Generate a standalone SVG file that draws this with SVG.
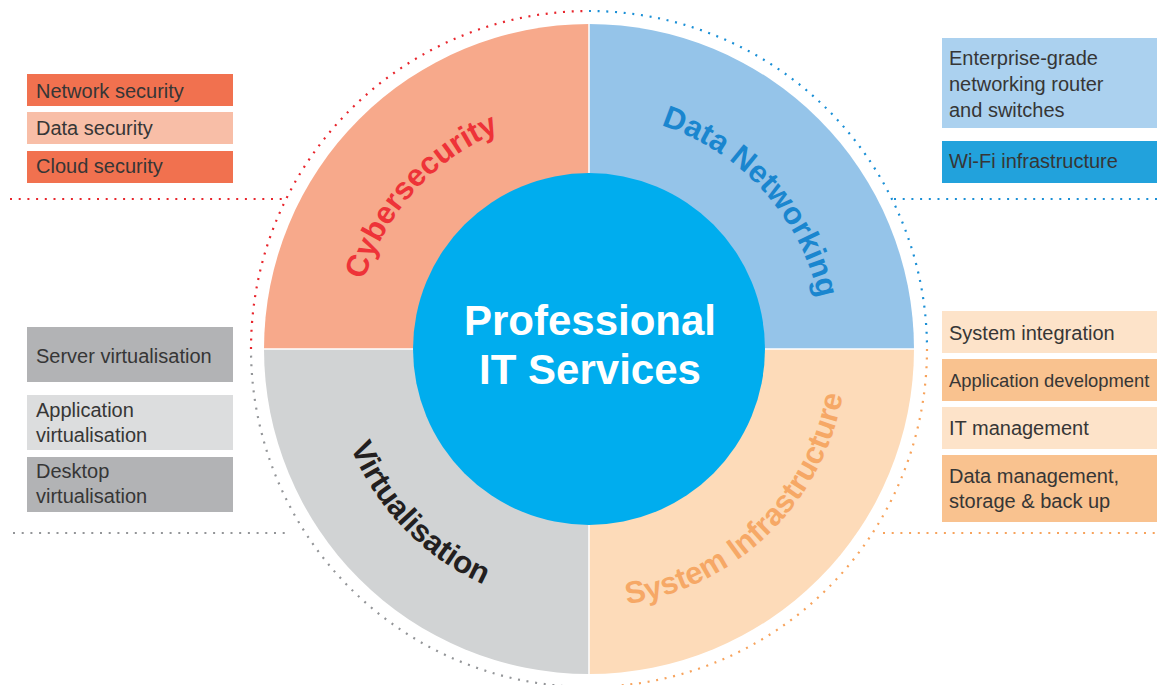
<svg xmlns="http://www.w3.org/2000/svg" width="1159" height="685" viewBox="0 0 1159 685">
<style>
.box{font-family:"Liberation Sans",Arial,sans-serif;font-size:20px;fill:#363636}
.lbl{font-family:"Liberation Sans",Arial,sans-serif;font-size:31px;font-weight:bold}
.ctr{font-family:"Liberation Sans",Arial,sans-serif;font-size:42px;font-weight:bold;fill:#ffffff}
.dot{fill:none;stroke-width:2.2;stroke-dasharray:2 6.7}
.sep{stroke:#ffffff;stroke-width:1.5}
</style>
<defs>
<path id="arcTL" d="M 354 349 A 235 235 0 0 1 589 114"/>
<path id="arcTR" d="M 589 114 A 235 235 0 0 1 824 349"/>
<path id="arcBR" d="M 589 607 A 258 258 0 0 0 847 349"/>
<path id="arcBL" d="M 331 349 A 258 258 0 0 0 589 607"/>
</defs>
<g id="connectors">
<path class="dot" stroke="#e8262d" d="M 251 349 A 338 338 0 0 1 589 11"/>
<path class="dot" stroke="#1a8fd6" d="M 589 11 A 338 338 0 0 1 927 349"/>
<path class="dot" stroke="#f7a35c" d="M 927 349 A 338 338 0 0 1 589 687"/>
<path class="dot" stroke="#939598" d="M 589 687 A 338 338 0 0 1 251 349"/>
<line class="dot" stroke="#e8262d" x1="10" y1="199" x2="284" y2="199"/>
<line class="dot" stroke="#1a8fd6" x1="894" y1="199" x2="1159" y2="199"/>
<line class="dot" stroke="#939598" x1="13" y1="533" x2="287" y2="533"/>
<line class="dot" stroke="#f7a35c" x1="883" y1="533" x2="1159" y2="533"/>
</g>
<g id="cybersecurity">
<path d="M 589 349 L 264 349 A 325 325 0 0 1 589 24 Z" fill="#f7a98b"/>
<text class="lbl" fill="#ee3338"><textPath href="#arcTL" startOffset="47%" text-anchor="middle">Cybersecurity</textPath></text>
</g>
<g id="data-networking">
<path d="M 589 349 L 589 24 A 325 325 0 0 1 914 349 Z" fill="#95c4e9"/>
<text class="lbl" fill="#1a86cf"><textPath href="#arcTR" startOffset="53%" text-anchor="middle">Data Networking</textPath></text>
</g>
<g id="system-infrastructure">
<path d="M 589 349 L 914 349 A 325 325 0 0 1 589 674 Z" fill="#fddbb9"/>
<text class="lbl" fill="#f6a866"><textPath href="#arcBR" startOffset="49%" text-anchor="middle">System Infrastructure</textPath></text>
</g>
<g id="virtualisation">
<path d="M 589 349 L 589 674 A 325 325 0 0 1 264 349 Z" fill="#d1d3d4"/>
<text class="lbl" fill="#231f20"><textPath href="#arcBL" startOffset="49%" text-anchor="middle">Virtualisation</textPath></text>
</g>
<g id="separators">
<line class="sep" x1="589" y1="24" x2="589" y2="674"/>
<line class="sep" x1="264" y1="349" x2="914" y2="349"/>
</g>
<g id="center">
<circle cx="589" cy="349" r="176" fill="#00adee"/>
<text class="ctr" x="590" y="335" text-anchor="middle">Professional</text>
<text class="ctr" x="590" y="384" text-anchor="middle">IT Services</text>
</g>
<g id="network-security">
<rect x="27" y="74" width="206" height="32" fill="#f1714f"/>
<text class="box" x="36" y="98">Network security</text>
</g>
<g id="data-security">
<rect x="27" y="112" width="206" height="32" fill="#f8bea7"/>
<text class="box" x="36" y="135">Data security</text>
</g>
<g id="cloud-security">
<rect x="27" y="151" width="206" height="32" fill="#f1714f"/>
<text class="box" x="36" y="173">Cloud security</text>
</g>
<g id="enterprise-networking">
<rect x="942" y="38" width="215" height="90" fill="#abd1ef"/>
<text class="box" x="949" y="65">Enterprise-grade</text>
<text class="box" x="949" y="91">networking router</text>
<text class="box" x="949" y="117">and switches</text>
</g>
<g id="wifi">
<rect x="942" y="141" width="215" height="42" fill="#22a2dc"/>
<text class="box" x="949" y="168">Wi-Fi infrastructure</text>
</g>
<g id="server-virtualisation">
<rect x="27" y="327" width="206" height="55" fill="#b2b3b5"/>
<text class="box" x="36" y="363">Server virtualisation</text>
</g>
<g id="application-virtualisation">
<rect x="27" y="395" width="206" height="55" fill="#dcddde"/>
<text class="box" x="36" y="417">Application</text>
<text class="box" x="36" y="442">virtualisation</text>
</g>
<g id="desktop-virtualisation">
<rect x="27" y="457" width="206" height="55" fill="#b2b3b5"/>
<text class="box" x="36" y="478">Desktop</text>
<text class="box" x="36" y="503">virtualisation</text>
</g>
<g id="system-integration">
<rect x="942" y="311" width="215" height="42" fill="#fde3c9"/>
<text class="box" x="949" y="340">System integration</text>
</g>
<g id="application-development">
<rect x="942" y="359" width="215" height="42" fill="#f9c28f"/>
<text class="box" x="949" y="387" style="font-size:18.4px">Application development</text>
</g>
<g id="it-management">
<rect x="942" y="407" width="215" height="42" fill="#fde3c9"/>
<text class="box" x="949" y="435">IT management</text>
</g>
<g id="data-management">
<rect x="942" y="455" width="215" height="67" fill="#f9c28f"/>
<text class="box" x="949" y="483">Data management,</text>
<text class="box" x="949" y="508">storage &amp; back up</text>
</g>
</svg>
